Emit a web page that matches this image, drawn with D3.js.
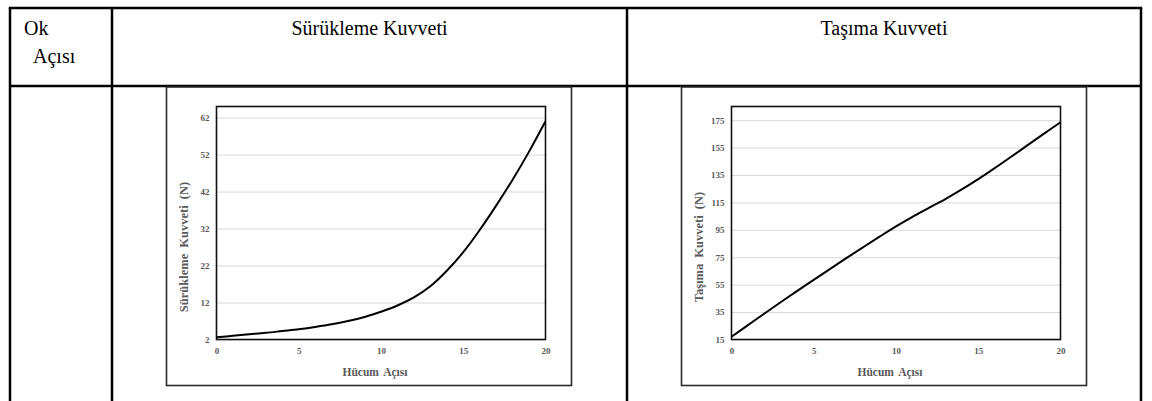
<!DOCTYPE html>
<html>
<head>
<meta charset="utf-8">
<script src="https://cdn.jsdelivr.net/npm/d3@7/dist/d3.min.js"></script>
<style>
  html, body { margin: 0; padding: 0; background: #fff; }
  svg { display: block; }
  .hdr { font-family: "Liberation Serif", "Times New Roman", serif; font-size: 20px; fill: #000; }
  .tick text { font-family: "Liberation Serif", "Times New Roman", serif; font-size: 9px; font-weight: bold; fill: #595959; }
  .ttl { font-family: "Liberation Serif", "Times New Roman", serif; font-weight: bold; fill: #595959; }
</style>
</head>
<body>
<svg id="page" width="1152" height="401"></svg>
<script>
// Angle of attack (Hücum Açısı), degrees
const angles = [0, 1, 2, 3, 4, 5, 6, 7, 8, 9, 10, 11, 12, 13, 14, 15, 16, 17, 18, 19, 20];
// Drag force (N)
const dragForce = [2.6, 3.0, 3.4, 3.8, 4.3, 4.8, 5.4, 6.1, 7.0, 8.1, 9.5, 11.2, 13.4, 16.4, 20.6, 25.6, 31.6, 38.2, 45.2, 52.8, 61.0];
// Lift force (N)
const liftForce = [17, 25.5, 34, 42.3, 50.5, 58.5, 66.5, 74.5, 82.3, 90, 97.5, 104.5, 111, 117.5, 124.5, 132, 140, 148.3, 156.8, 165.2, 173.5];

const xTicks = [0, 5, 10, 15, 20];
const dragTicks = [2, 12, 22, 32, 42, 52, 62];
const liftTicks = [15, 35, 55, 75, 95, 115, 135, 155, 175];

const headers = ["Sürükleme Kuvveti", "Taşıma Kuvveti"];
const firstColLines = ["Ok", "Açısı"];

const svg = d3.select("#page");

// ---- table grid ----
const tbl = { left: 10, right: 1141, top: 8, headBottom: 86, col1: 112, col2: 627, bottom: 401 };
const grid = svg.append("g").attr("stroke", "#000").attr("stroke-width", 2.5);
grid.append("line").attr("x1", tbl.left - 1.2).attr("x2", tbl.right + 1.2).attr("y1", tbl.top).attr("y2", tbl.top);
grid.append("line").attr("x1", tbl.left).attr("x2", tbl.right).attr("y1", tbl.headBottom).attr("y2", tbl.headBottom);
[tbl.left, tbl.col1, tbl.col2, tbl.right].forEach(x =>
  grid.append("line").attr("x1", x).attr("x2", x).attr("y1", tbl.top).attr("y2", tbl.bottom));

svg.append("text").attr("class", "hdr").attr("x", 24).attr("y", 35).text(firstColLines[0]);
svg.append("text").attr("class", "hdr").attr("x", 33).attr("y", 63).text(firstColLines[1]);
svg.append("text").attr("class", "hdr").attr("text-anchor", "middle")
  .attr("x", (tbl.col1 + tbl.col2) / 2).attr("y", 35).text(headers[0]);
svg.append("text").attr("class", "hdr").attr("text-anchor", "middle")
  .attr("x", (tbl.col2 + tbl.right) / 2).attr("y", 35).text(headers[1]);

// ---- one embedded line chart ----
function drawChart(frameX, values, yDomain, yTicks, yTitle) {
  const frame = { x: frameX, y: 87, w: 405, h: 298.5 };
  const plot = { x: frameX + 50, y: 106.5, w: 329, h: 233 };

  const g = svg.append("g");
  g.append("rect").attr("x", frame.x).attr("y", frame.y).attr("width", frame.w).attr("height", frame.h)
    .attr("fill", "#fff").attr("stroke", "#2a2a2a").attr("stroke-width", 1.6);

  const x = d3.scaleLinear().domain([0, 20]).range([plot.x, plot.x + plot.w]);
  const y = d3.scaleLinear().domain(yDomain).range([plot.y + plot.h, plot.y]);

  // horizontal gridlines + y labels
  const ya = g.append("g").attr("transform", `translate(${plot.x},0)`)
    .call(d3.axisLeft(y).tickValues(yTicks).tickSize(-plot.w).tickPadding(7).tickFormat(d3.format("d")));
  ya.select(".domain").remove();
  ya.selectAll(".tick line").attr("stroke", "#d9d9d9").attr("stroke-width", 1);

  // x labels
  const xa = g.append("g").attr("transform", `translate(0,${plot.y + plot.h})`)
    .call(d3.axisBottom(x).tickValues(xTicks).tickSize(0).tickPadding(8));
  xa.select(".domain").remove();

  // plot border
  g.append("rect").attr("x", plot.x).attr("y", plot.y).attr("width", plot.w).attr("height", plot.h)
    .attr("fill", "none").attr("stroke", "#111").attr("stroke-width", 1.6);

  // series
  const line = d3.line().x((d, i) => x(angles[i])).y(d => y(d)).curve(d3.curveCatmullRom.alpha(0.5));
  g.append("path").datum(values).attr("d", line)
    .attr("fill", "none").attr("stroke", "#000").attr("stroke-width", 2);

  // titles
  g.append("text").attr("class", "ttl").attr("font-size", "11.5px").attr("text-anchor", "middle")
    .attr("x", plot.x + plot.w / 2 - 6).attr("y", plot.y + plot.h + 36).text("Hücum Açısı")
    .attr("word-spacing", "2px");
  g.append("text").attr("class", "ttl").attr("font-size", "12.5px").attr("text-anchor", "middle")
    .attr("transform", `translate(${plot.x - 29},${plot.y + plot.h / 2 + 24}) rotate(-90)`)
    .attr("word-spacing", "3px")
    .text(yTitle);
}

drawChart(166.5, dragForce, [2, 65], dragTicks, "Sürükleme Kuvveti (N)");
drawChart(681.5, liftForce, [15, 185], liftTicks, "Taşıma Kuvveti (N)");
</script>
</body>
</html>
